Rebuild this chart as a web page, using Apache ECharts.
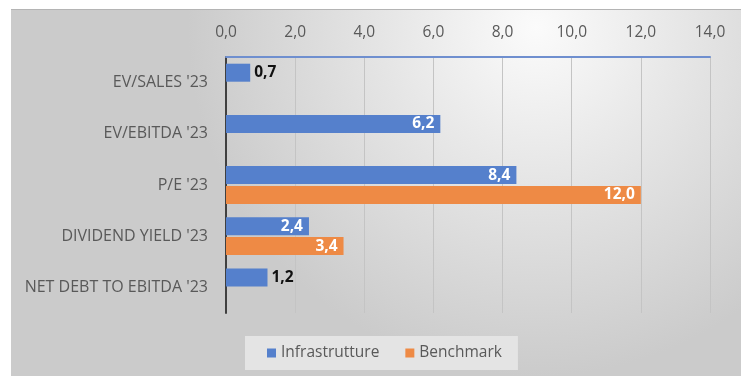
<!DOCTYPE html>
<html>
<head>
<meta charset="utf-8">
<script src="https://cdn.jsdelivr.net/npm/echarts@6/dist/echarts.min.js"></script>
<style>
  html, body { margin: 0; padding: 0; background: #ffffff; }
  #chart { width: 741px; height: 376px; }
</style>
</head>
<body>
<div id="chart"></div>
<script>
// Valuation multiples: infrastructure sector vs benchmark
const categories = ["EV/SALES '23", "EV/EBITDA '23", "P/E '23", "DIVIDEND YIELD '23", "NET DEBT TO EBITDA '23"];
const infrastrutture = [0.7, 6.2, 8.4, 2.4, 1.2];
const benchmark = [null, null, 12.0, 3.4, null];
const seriesNames = ['Infrastrutture', 'Benchmark'];

const BLUE = '#5580cc';
const ORANGE = '#ee8a45';
const FONT = '"Open Sans", "Noto Sans", sans-serif';

const fmt = v => v.toFixed(1).replace('.', ',');

// Short bars carry their label outside in dark text, long ones inside in white
function withLabels(values) {
  return values.map(v => {
    if (v === null) return null;
    const outside = v < 2;
    return {
      value: v,
      label: {
        show: true,
        position: outside ? 'right' : 'insideRight',
        color: outside ? '#111111' : '#ffffff',
        fontWeight: 'bold',
        fontSize: 15.5,
        fontFamily: FONT,
        distance: outside ? 4 : 6,
        formatter: p => fmt(p.value)
      }
    };
  });
}

const chart = echarts.init(document.getElementById('chart'), null, { renderer: 'canvas' });

chart.setOption({
  animation: false,
  backgroundColor: '#ffffff',
  graphic: [
    {
      type: 'rect',
      z: -10,
      silent: true,
      shape: { x: 11, y: 9, width: 730, height: 367 },
      style: {
        fill: {
          type: 'radial', x: 0.72, y: 0.05, r: 0.95,
          colorStops: [
            { offset: 0, color: '#fbfbfb' },
            { offset: 0.45, color: '#e5e5e5' },
            { offset: 1, color: '#cbcbcb' }
          ]
        }
      }
    },
    {
      type: 'line',
      z: -9,
      silent: true,
      shape: { x1: 11, y1: 9.5, x2: 741, y2: 9.5 },
      style: { stroke: '#b4b4b4', lineWidth: 1 }
    }
  ],
  grid: { left: 226, right: 31, top: 57, bottom: 63 },
  legend: {
    data: seriesNames,
    bottom: 6,
    left: 245,
    icon: 'rect',
    itemWidth: 9,
    itemHeight: 9,
    itemGap: 26,
    padding: [9, 16, 9, 22],
    backgroundColor: '#e4e4e4',
    textStyle: { color: '#595959', fontSize: 15.5, fontFamily: FONT }
  },
  xAxis: {
    type: 'value',
    position: 'top',
    min: 0,
    max: 14,
    interval: 2,
    axisLine: { show: true, onZero: false, lineStyle: { color: '#6f8fcf', width: 2 } },
    axisTick: { show: false },
    splitLine: { show: true, lineStyle: { color: '#c4c4c4', width: 1 } },
    axisLabel: {
      color: '#595959',
      fontSize: 15.5,
      fontFamily: FONT,
      margin: 16,
      formatter: v => fmt(v)
    }
  },
  yAxis: {
    type: 'category',
    data: categories,
    inverse: true,
    axisLine: { show: true, lineStyle: { color: '#404040', width: 2 } },
    axisTick: { show: false },
    axisLabel: {
      color: '#595959',
      fontSize: 16,
      fontFamily: FONT,
      margin: 18
    }
  },
  series: [
    {
      name: seriesNames[0],
      type: 'bar',
      data: withLabels(infrastrutture),
      barWidth: 18,
      barGap: '10%',
      itemStyle: { color: BLUE }
    },
    {
      name: seriesNames[1],
      type: 'bar',
      data: withLabels(benchmark),
      barWidth: 18,
      barGap: '10%',
      itemStyle: { color: ORANGE }
    }
  ]
});
</script>
</body>
</html>
